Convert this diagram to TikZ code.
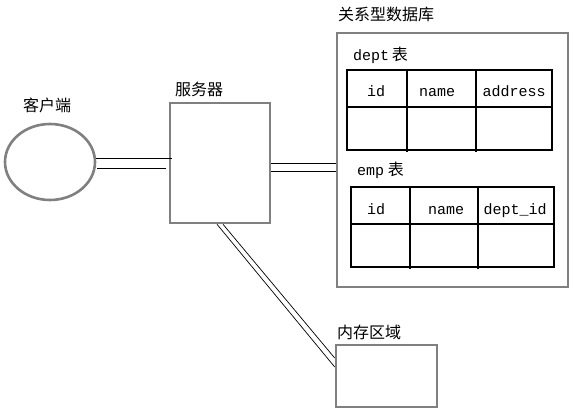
\documentclass[tikz,border=0pt]{standalone}
\usepackage{fontspec}
\setmonofont{Liberation Mono}
\newfontfamily\cjk{Noto Sans CJK SC}
\usetikzlibrary{positioning,shapes.geometric}

\tikzset{
  box/.style={draw=gray, line width=2.6pt, inner sep=0pt},
  link/.style={line width=0.7pt},
  grid/.style={line width=2.8pt},
  head/.style={font=\ttfamily\fontsize{15}{15}\selectfont, anchor=base, inner sep=0pt},
  cn/.style={font=\cjk\fontsize{16}{16}\selectfont, anchor=base west, inner sep=0pt},
}

\begin{document}
\begin{tikzpicture}[x=1pt, y=-1pt]
  \useasboundingbox (0,0) rectangle (573,414);

  % boxes
  \node[box, ellipse, minimum width=90pt, minimum height=76pt] (client) at (50,162) {};
  \node[box, minimum width=100pt, minimum height=120pt] (server) at (220,163) {};
  \node[box, minimum width=231pt, minimum height=254pt] (db) at (452.5,160) {};
  \node[box, minimum width=101pt, minimum height=62pt] (mem) at (386.5,376) {};

  % labels
  \node[cn] (clientLabel) at (23,112) {客户端};
  \node[cn] (serverLabel) at (175,96) {服务器};
  \node[cn] (dbLabel) at (338,21) {关系型数据库};
  \node[cn] (memLabel) at (337,338) {内存区域};
  \node[cn] (deptLabel) at (353,61) {{\ttfamily\fontsize{15}{15}\selectfont dept}\,表};
  \node[cn] (empLabel) at (357,176) {{\ttfamily\fontsize{15}{15}\selectfont emp} 表};

  % dept table
  \draw[grid] (347,70) rectangle (552,150);
  \draw[grid] (347,107) -- (552,107);
  \draw[grid] (407,70) -- (407,152);
  \draw[grid] (476,70) -- (476,152);
  \node[head] (deptId) at (376,97) {id};
  \node[head] (deptName) at (437,97) {name};
  \node[head] (deptAddr) at (514,97) {address};

  % emp table
  \draw[grid] (351,187) rectangle (554,267);
  \draw[grid] (351,224) -- (554,224);
  \draw[grid] (410,187) -- (410,269);
  \draw[grid] (478,187) -- (478,269);
  \node[head] (empId) at (376,215) {id};
  \node[head] (empName) at (446,215) {name};
  \node[head] (empDept) at (515,215) {dept\_id};

  % connections
  \draw[link] ([yshift=4pt]client.east) -- ([xshift=3pt,yshift=5pt]server.west);
  \draw[link] ([xshift=1pt,yshift=-6pt]client.east) -- ([xshift=-3pt,yshift=-5pt]server.west);
  \draw[link] (server.east) -- (server.east -| db.west);
  \draw[link] ([yshift=-8pt]server.east) -- ([yshift=-8pt]server.east -| db.west);
  \draw[link] ([xshift=-3pt]server.south) -- ([yshift=9pt]mem.west);
  \draw[link] ([xshift=3pt]server.south) -- ([yshift=18pt]mem.west);
\end{tikzpicture}
\end{document}
